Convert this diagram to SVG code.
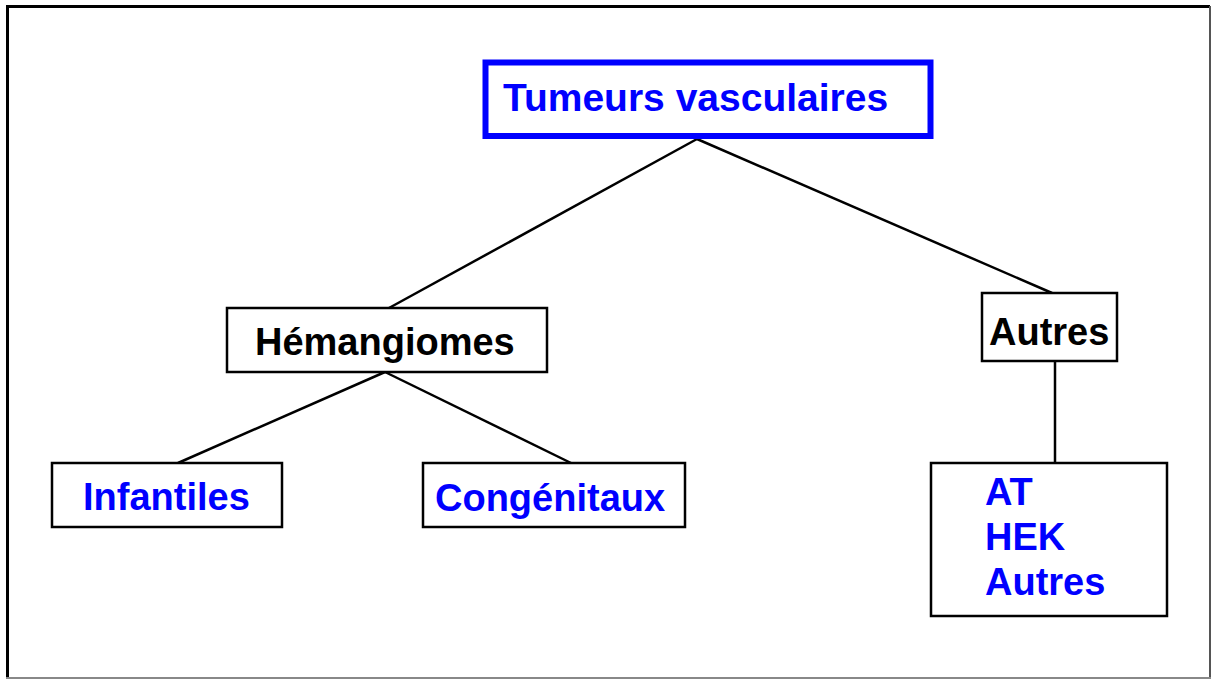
<svg xmlns="http://www.w3.org/2000/svg" width="1212" height="680" viewBox="0 0 1212 680">
<style>
.box{fill:#fff;stroke:#000;stroke-width:2.5}
.t{font-family:"Liberation Sans",Arial,sans-serif;font-weight:bold;font-size:38px}
.blue{fill:#0000ff}
.black{fill:#000}
.conn line{stroke:#000;stroke-width:2.5}
</style>
<rect x="0" y="0" width="1212" height="680" fill="#fff"/>
<g id="frame">
<line x1="6" y1="6.5" x2="1210" y2="6.5" stroke="#000" stroke-width="3"/>
<line x1="7.5" y1="6" x2="7.5" y2="679" stroke="#000" stroke-width="3"/>
<line x1="1210" y1="6" x2="1210" y2="679" stroke="#555" stroke-width="2"/>
<line x1="6" y1="678" x2="1211" y2="678" stroke="#888" stroke-width="2"/>
</g>
<g class="conn" id="connectors">
<line x1="697" y1="139" x2="389" y2="308"/>
<line x1="697" y1="139" x2="1052" y2="293"/>
<line x1="385" y1="372" x2="178" y2="463"/>
<line x1="385" y1="372" x2="571" y2="463"/>
<line x1="1055" y1="361" x2="1055" y2="463"/>
</g>
<g id="n-tumeurs">
<rect x="485.5" y="62.5" width="445" height="73.5" fill="#fff" stroke="#0000ff" stroke-width="6"/>
<text class="t blue" x="503" y="111" style="font-size:39px">Tumeurs vasculaires</text>
</g>
<g id="n-hemangiomes">
<rect class="box" x="227" y="308" width="320" height="64"/>
<text class="t black" x="255" y="355">Hémangiomes</text>
</g>
<g id="n-autres">
<rect class="box" x="982" y="293" width="135" height="68"/>
<text class="t black" x="989" y="345">Autres</text>
</g>
<g id="n-infantiles">
<rect class="box" x="52" y="463" width="230" height="64"/>
<text class="t blue" x="83" y="510">Infantiles</text>
</g>
<g id="n-congenitaux">
<rect class="box" x="423" y="463" width="262" height="64"/>
<text class="t blue" x="435" y="511">Congénitaux</text>
</g>
<g id="n-at">
<rect class="box" x="931" y="463" width="236" height="153"/>
<text class="t blue" x="985" y="505">AT</text>
<text class="t blue" x="985" y="550">HEK</text>
<text class="t blue" x="985" y="595">Autres</text>
</g>
</svg>
